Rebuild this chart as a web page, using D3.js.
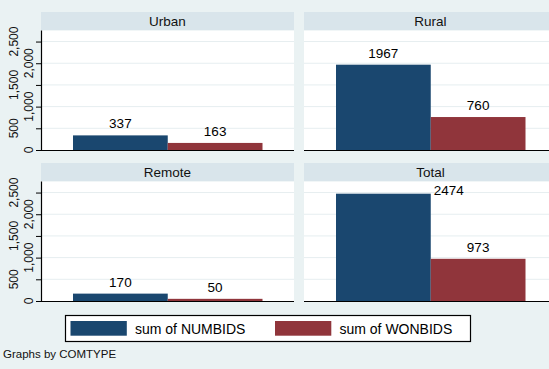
<!DOCTYPE html>
<html><head><meta charset="utf-8">
<script src="https://cdn.jsdelivr.net/npm/d3@7"></script>
<style>html,body{margin:0;padding:0;background:#eaf2f3;overflow:hidden}svg{display:block}</style>
</head><body><svg id="c" width="549" height="369"></svg>
<script>
const categories = ["Urban", "Rural", "Remote", "Total"];
const seriesNames = ["sum of NUMBIDS", "sum of WONBIDS"];
const numbids = [337, 1967, 170, 2474];
const wonbids = [163, 760, 50, 973];
const yTicks = [0, 500, 1000, 1500, 2000, 2500];
const colors = ["#1a476f", "#90353b"];

const font = "Liberation Sans, Arial, Helvetica, sans-serif";
const svg = d3.select("#c");
svg.append("rect").attr("width", 549).attr("height", 369).attr("fill", "#eaf2f3");

const colX = [41, 304], panelW = 253;
const stripTop = [12, 163], stripH = 18.5, plotBottom = [150, 301];

categories.forEach((cat, i) => {
  const col = i % 2, row = Math.floor(i / 2);
  const x0 = colX[col], top = stripTop[row] + stripH, bottom = plotBottom[row];
  const g = svg.append("g");
  // strip
  g.append("rect").attr("x", x0).attr("y", stripTop[row]).attr("width", panelW).attr("height", stripH).attr("fill", "#d9e5eb");
  g.append("text").attr("x", x0 + panelW / 2).attr("y", stripTop[row] + stripH / 2 + 4.8)
    .attr("text-anchor", "middle").attr("font-family", font).attr("font-size", 13.5).attr("fill", "#111").text(cat);
  // plot area
  g.append("rect").attr("x", x0).attr("y", top).attr("width", panelW).attr("height", bottom - top).attr("fill", "#fff");
  const y = d3.scaleLinear().domain([0, 2755]).range([bottom, top]);
  const x = d3.scaleBand().domain(seriesNames).range([x0 + 32, x0 + 221.5]).padding(0);
  // grid
  g.selectAll(".grid").data(yTicks.slice(1)).join("line")
    .attr("x1", x0).attr("x2", x0 + panelW).attr("y1", d => y(d)).attr("y2", d => y(d))
    .attr("stroke", "#e6eef0").attr("stroke-width", 1);
  const vals = [numbids[i], wonbids[i]];
  g.selectAll(".bar").data(vals).join("rect")
    .attr("x", (d, k) => x(seriesNames[k])).attr("width", x.bandwidth())
    .attr("y", d => y(d)).attr("height", d => bottom - y(d)).attr("fill", (d, k) => colors[k]);
  // labels
  vals.forEach((v, k) => {
    const ty = y(v) - 7;
    const t = g.append("text").attr("font-family", font).attr("font-size", 13.5).attr("fill", "#000").text(v);
    if (ty - 10 < top) {
      t.attr("x", x(seriesNames[k]) + x.bandwidth() + 3).attr("y", y(v) + 1).attr("text-anchor", "start");
    } else {
      t.attr("x", x(seriesNames[k]) + x.bandwidth() / 2).attr("y", ty).attr("text-anchor", "middle");
    }
  });
  // bottom axis line
  g.append("line").attr("x1", x0).attr("x2", x0 + panelW).attr("y1", bottom + 0.5).attr("y2", bottom + 0.5)
    .attr("stroke", "#000").attr("stroke-width", 1.2);
  if (col === 0) {
    const ax = g.append("g").attr("transform", `translate(${x0},0)`)
      .call(d3.axisLeft(y).tickValues(yTicks).tickSize(5).tickFormat(() => ""));
    ax.select(".domain").attr("d", `M0.5,${top}V${bottom + 0.5}`).attr("stroke", "#000").attr("stroke-width", 1.2);
    ax.selectAll(".tick line").attr("stroke", "#000");
    yTicks.forEach((t, k) => {
      const bx = k % 2 === 0 ? 32.5 : 18;
      g.append("text").attr("transform", `translate(${bx},${y(t)}) rotate(-90)`)
        .attr("text-anchor", "middle").attr("font-family", font).attr("font-size", 12).attr("fill", "#111")
        .text(d3.format(",")(t));
    });
  }
});

// legend
const lg = svg.append("g");
lg.append("rect").attr("x", 65.5).attr("y", 315.5).attr("width", 405).attr("height", 26).attr("fill", "#fff").attr("stroke", "#000").attr("stroke-width", 1.2);
const lx = [70.5, 275];
seriesNames.forEach((s, k) => {
  lg.append("rect").attr("x", lx[k]).attr("y", 321).attr("width", 56.3).attr("height", 14.7).attr("fill", colors[k]);
  lg.append("text").attr("x", lx[k] + 64.5).attr("y", 333.5).attr("font-family", font).attr("font-size", 14).attr("fill", "#000").text(s);
});
svg.append("text").attr("x", 3).attr("y", 357.5).attr("font-family", font).attr("font-size", 11.5).attr("fill", "#111").text("Graphs by COMTYPE");
</script></body></html>
